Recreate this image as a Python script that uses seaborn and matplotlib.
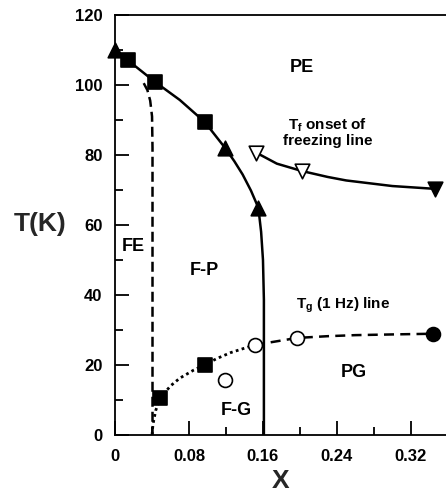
import matplotlib
matplotlib.use("Agg")
import matplotlib.pyplot as plt
import seaborn as sns
from matplotlib.ticker import MultipleLocator

sns.set_theme(style="ticks")
plt.rcParams['font.family'] = ['Liberation Sans', 'DejaVu Sans']
plt.rcParams['font.weight'] = 'bold'
plt.rcParams['mathtext.fontset'] = 'custom'
plt.rcParams['mathtext.rm'] = 'Liberation Sans:bold'
plt.rcParams['mathtext.bf'] = 'Liberation Sans:bold'
plt.rcParams['mathtext.it'] = 'Liberation Sans:bold'

# ---- data ----
# Ferro/para boundary (solid)
fp_x = [0.0, 0.014, 0.043, 0.070, 0.097, 0.119, 0.129, 0.138, 0.147, 0.155, 0.158, 0.160, 0.161, 0.161]
fp_T = [110, 107, 100.9, 95.7, 89.4, 82, 78.2, 74.4, 69.8, 64.9, 58, 50, 38.6, 0]
# FE boundary (dashed)
fe_x = [0.031, 0.035, 0.038, 0.040, 0.0405, 0.0405]
fe_T = [100.5, 98.5, 95.5, 91, 82, 0]
# Freezing line (solid)
tf_x = [0.153, 0.175, 0.202, 0.23, 0.25, 0.30, 0.346]
tf_T = [80.6, 77.5, 75.4, 73.7, 72.7, 71.1, 70.3]
# Tg dotted part
tgd_x = [0.040, 0.041, 0.044, 0.049, 0.06, 0.07, 0.085, 0.097, 0.11, 0.125, 0.151]
tgd_T = [0, 3, 7, 10.6, 14, 16.2, 18.5, 20, 21.8, 23.5, 25.7]
# Tg dashed part
tgl_x = [0.151, 0.197, 0.23, 0.26, 0.30, 0.344]
tgl_T = [25.7, 27.7, 28.2, 28.5, 28.7, 28.9]

# markers
tri_up_x = [0.0, 0.119, 0.155]
tri_up_T = [110, 82, 64.9]
sq_x = [0.014, 0.043, 0.097, 0.049, 0.097]
sq_T = [107, 100.9, 89.4, 10.6, 20]
tri_dn_open_x = [0.153, 0.202]
tri_dn_open_T = [80.6, 75.4]
tri_dn_fill_x = [0.346]
tri_dn_fill_T = [70.3]
circ_open_x = [0.119, 0.151, 0.197]
circ_open_T = [15.7, 25.7, 27.7]
circ_fill_x = [0.344]
circ_fill_T = [28.9]

fig = plt.figure(figsize=(4.46, 4.97), dpi=100)
ax = fig.add_axes([0.258, 0.125, 0.742, 0.845])

def line(x, y, ls, lw=1.8):
    sns.lineplot(x=x, y=y, sort=False, ax=ax, color='black', linestyle=ls,
                 linewidth=lw, estimator=None)

line(fp_x, fp_T, '-')
line(fe_x, fe_T, (0, (4, 2)))
line(tf_x, tf_T, '-')
line(tgd_x, tgd_T, (0, (1, 1.2)), 2.0)
line(tgl_x, tgl_T, (0, (4, 2.5)))

def pts(x, y, m, fc, s=110):
    sns.scatterplot(x=x, y=y, marker=m, s=s, color=fc, edgecolor='black',
                    linewidth=1.2, ax=ax, zorder=5, clip_on=False)

pts(tri_up_x, tri_up_T, '^', 'black')
pts(sq_x, sq_T, 's', 'black', 100)
pts(tri_dn_open_x, tri_dn_open_T, 'v', 'white')
pts(tri_dn_fill_x, tri_dn_fill_T, 'v', 'black')
pts(circ_open_x, circ_open_T, 'o', 'white', 100)
pts(circ_fill_x, circ_fill_T, 'o', 'black', 100)

ax.set_xlim(0, 0.358)
ax.set_ylim(0, 120)
ax.xaxis.set_major_locator(MultipleLocator(0.08))
ax.xaxis.set_minor_locator(MultipleLocator(0.04))
ax.yaxis.set_major_locator(MultipleLocator(20))
ax.yaxis.set_minor_locator(MultipleLocator(10))
ax.set_xticklabels(['0' if abs(v) < 1e-9 else f'{v:.2f}' for v in ax.get_xticks()])
ax.tick_params(which='both', direction='in', width=1.3, labelsize=12,
               colors='black', top=False, right=False)
ax.tick_params(axis='x', pad=10)
ax.tick_params(axis='y', pad=9)
ax.tick_params(which='major', length=10)
ax.tick_params(which='minor', length=5.5)
for lab in ax.get_xticklabels() + ax.get_yticklabels():
    lab.set_fontweight('bold')
ax.spines['right'].set_visible(False)
for s in ['left', 'bottom', 'top']:
    ax.spines[s].set_linewidth(1.3)
    ax.spines[s].set_color('black')

ax.set_xlabel('X', fontsize=19, fontweight='bold', labelpad=4)
ax.set_ylabel('T(K)', fontsize=19, fontweight='bold', rotation=0, va='center', ha='center')
ax.yaxis.set_label_coords(-0.225, 0.502)

kw = dict(ha='center', va='center', fontweight='bold', color='black')
ax.text(0.202, 104.9, 'PE', fontsize=13, **kw)
ax.text(0.230, 86.6, 'T$_\\mathregular{f}$ onset of\nfreezing line', fontsize=11,
        linespacing=1.0, **kw)
ax.text(0.0195, 53.7, 'FE', fontsize=13, **kw)
ax.text(0.097, 47, 'F-P', fontsize=13, **kw)
ax.text(0.247, 37, 'T$_\\mathregular{g}$ (1 Hz) line', fontsize=11, **kw)
ax.text(0.258, 17.7, 'PG', fontsize=13, **kw)
ax.text(0.131, 7.1, 'F-G', fontsize=13, **kw)

fig.savefig('out.png', dpi=100)
